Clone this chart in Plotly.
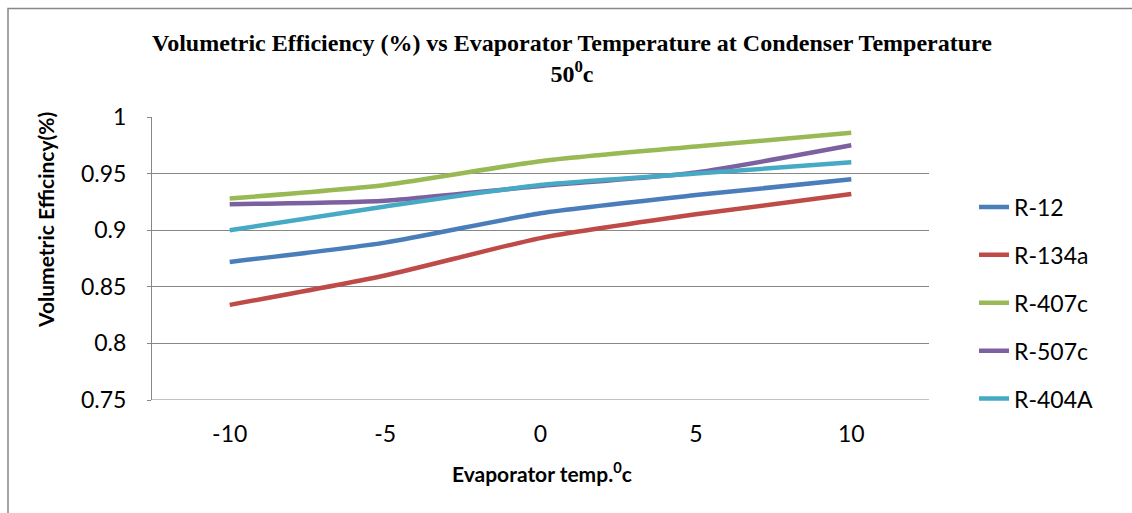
import plotly.graph_objects as go

categories = ["-10", "-5", "0", "5", "10"]
r12 = [0.872, 0.889, 0.915, 0.931, 0.945]
r134a = [0.834, 0.860, 0.893, 0.914, 0.932]
r407c = [0.928, 0.940, 0.961, 0.974, 0.986]
r507c = [0.923, 0.926, 0.939, 0.951, 0.975]
r404a = [0.900, 0.921, 0.940, 0.950, 0.960]

series = [
    ("R-12", r12, "#4A7EBB"),
    ("R-134a", r134a, "#BE4B48"),
    ("R-407c", r407c, "#98B954"),
    ("R-507c", r507c, "#7D60A0"),
    ("R-404A", r404a, "#46AAC5"),
]

fig = go.Figure()
for i, (name, vals, col) in enumerate(series):
    fig.add_trace(go.Scatter(
        x=categories, y=vals, name=name, mode="lines",
        line=dict(color=col, width=4.5, shape="spline", smoothing=0.6),
        legendgroup=f"g{i}",
    ))

FONT = "Lato, Open Sans, sans-serif"
tickfont = dict(family=FONT, size=23, color="#000000")

PL, PT, PW, PH = 152, 117, 777, 283

def px(x):
    return (x - PL) / PW

def py(y):
    return (PT + PH - y) / PH

fig.update_layout(
    width=1132, height=513,
    margin=dict(l=152, r=203, t=117, b=113),
    paper_bgcolor="white", plot_bgcolor="white",
    showlegend=True,
    legend=dict(
        x=px(974), y=py(303), xanchor="left", yanchor="middle",
        font=dict(family=FONT, size=23, color="#000"),
        tracegroupgap=15, traceorder="grouped",
        bgcolor="rgba(0,0,0,0)",
    ),
    xaxis=dict(
        type="category", range=[-0.5, 4.5],
        showgrid=False, showline=False, zeroline=False,
        ticks="", tickfont=tickfont, ticklabelstandoff=18,
    ),
    yaxis=dict(
        range=[0.75, 1.0],
        showgrid=True, gridcolor="#878787", gridwidth=1,
        showline=True, linecolor="#878787", linewidth=1,
        ticks="outside", ticklen=4, tickcolor="#878787",
        zeroline=False, tickfont=tickfont, ticklabelstandoff=16,
        tickvals=[0.75, 0.8, 0.85, 0.9, 0.95, 1.0],
        ticktext=["0.75", "0.8", "0.85", "0.9", "0.95", "1"],
    ),
    annotations=[
        dict(text="<b>Volumetric Efficiency (%) vs Evaporator Temperature at Condenser Temperature<br>50<sup>0</sup>c</b>",
             xref="paper", yref="paper", x=px(572), y=py(58.5),
             showarrow=False, xanchor="center", yanchor="middle", align="center",
             font=dict(family="Liberation Serif, Times New Roman, serif", size=24, color="#000")),
        dict(text="<b>Volumetric Efficincy(%)</b>", xref="paper", yref="paper",
             x=px(45), y=py(220), textangle=-90,
             showarrow=False, xanchor="center", yanchor="middle",
             font=dict(family=FONT, size=21, color="#000")),
        dict(text="<b>Evaporator temp.<sup>0</sup>c</b>", xref="paper", yref="paper",
             x=px(542), y=py(472),
             showarrow=False, xanchor="center", yanchor="middle",
             font=dict(family=FONT, size=21, color="#000")),
    ],
    shapes=[
        dict(type="rect", xref="paper", yref="paper",
             x0=px(8), x1=px(1140), y0=py(520), y1=py(8.5),
             line=dict(color="#878787", width=1.5), fillcolor="rgba(0,0,0,0)", layer="below"),
    ],
)
fig.add_hline(y=0.75, line=dict(color="#878787", width=1))

fig.write_html("out.html")
